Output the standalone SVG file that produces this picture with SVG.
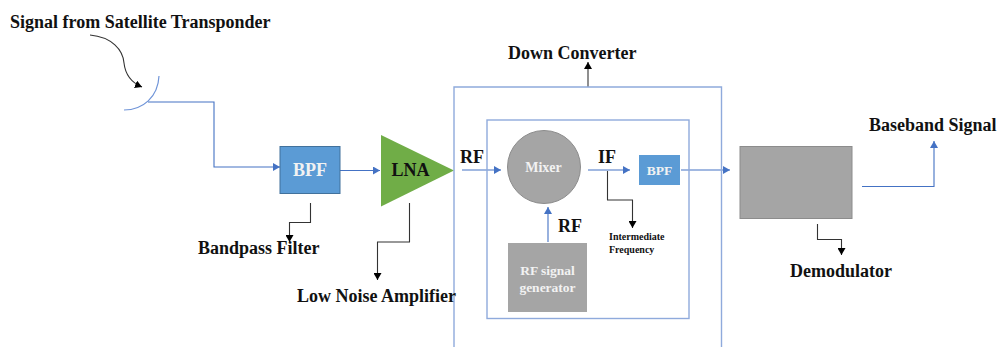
<svg xmlns="http://www.w3.org/2000/svg" width="998" height="347" viewBox="0 0 998 347">
<style>
text{font-family:"Liberation Serif","Times New Roman",serif;font-weight:bold;fill:#111}
.w{fill:#f2f2f2}
.c{text-anchor:middle}
.b{fill:none;stroke:#4472c4;stroke-width:1.1}
.k{fill:none;stroke:#333;stroke-width:1.1}
.f{fill:none;stroke:#8faadc;stroke-width:1.4}
.l{font-size:18px}
</style>
<defs>
<marker id="ab" markerUnits="userSpaceOnUse" markerWidth="8" markerHeight="8" refX="7" refY="4" orient="auto"><path d="M0 0L7 4L0 8Z" fill="#4472c4"/></marker>
<marker id="ak" markerUnits="userSpaceOnUse" markerWidth="8" markerHeight="8" refX="7" refY="4" orient="auto"><path d="M0 0L7 4L0 8Z" fill="#000"/></marker>
</defs>
<rect width="998" height="347" fill="#fff"/>
<g id="connectors">
<path class="b" d="M148 102H214V167H280" marker-end="url(#ab)"/>
<path class="b" d="M340 170.500H380" marker-end="url(#ab)"/>
<path class="b" d="M462 170H501" marker-end="url(#ab)"/>
<path class="b" d="M588 170H630" marker-end="url(#ab)"/>
<path class="b" d="M548 242V207" marker-end="url(#ab)"/>
<path class="b" d="M681 170H730" marker-end="url(#ab)"/>
<path class="b" d="M862 186.500H934V141" marker-end="url(#ab)"/>
<path class="k" d="M90 35C112 37 123 50 124 63C125 72 130 82 142 87" marker-end="url(#ak)"/>
<path class="k" d="M310.500 203V222.500H289.500V242" marker-end="url(#ak)"/>
<path class="k" d="M409.500 203V242H377.500V280" marker-end="url(#ak)"/>
<path class="k" d="M588 87V62" marker-end="url(#ak)"/>
<path class="k" d="M607.500 171V200H632.500V228" marker-end="url(#ak)"/>
<path class="k" d="M817.500 224V239.500H841.500V255" marker-end="url(#ak)"/>
</g>
<g id="dish"><path d="M159 76C158 97 143 110 124 110" fill="none" stroke="#6f94d8" stroke-width="1.2"/></g>
<g id="bpf1"><rect x="280" y="146.500" width="60" height="47" fill="#5b9bd5" stroke="#41719c"/><text class="w c" x="310" y="176" font-size="18px">BPF</text></g>
<g id="lna"><path d="M381 135V206.500L454 170.500Z" fill="#70ad47"/><text class="c" x="410.500" y="176" font-size="18px">LNA</text></g>
<g id="down-converter"><path class="f" d="M454 347V87H721.500V347"/></g>
<g id="inner"><rect class="f" x="487" y="120" width="202" height="198.500"/></g>
<g id="mixer"><circle cx="544" cy="167" r="36.500" fill="#a5a5a5" stroke="#8c8c8c"/><text class="w c" x="543.500" y="172" font-size="14px">Mixer</text></g>
<g id="rf-gen"><rect x="508" y="243" width="79" height="69" fill="#a5a5a5"/><text class="w c" x="547.500" y="275" font-size="13.500px">RF signal</text><text class="w c" x="547.500" y="291.500" font-size="13.500px">generator</text></g>
<g id="bpf2"><rect x="639" y="155" width="41" height="30" fill="#5b9bd5"/><text class="w c" x="659.500" y="175" font-size="13.500px">BPF</text></g>
<g id="demod"><rect x="740" y="146.500" width="112" height="72" fill="#a5a5a5" stroke="#8c8c8c"/></g>
<g id="labels">
<text class="l" x="10" y="28">Signal from Satellite Transponder</text>
<text class="l" x="198" y="254">Bandpass Filter</text>
<text class="l" x="297" y="302">Low Noise Amplifier</text>
<text class="l" x="508" y="59">Down Converter</text>
<text class="l" x="460" y="163">RF</text>
<text class="l" x="598" y="163">IF</text>
<text class="l" x="558" y="232">RF</text>
<text x="609" y="239.500" font-size="10px">Intermediate</text>
<text x="609" y="252.500" font-size="10px">Frequency</text>
<text class="l" x="869" y="131">Baseband Signal</text>
<text class="l" x="790" y="277">Demodulator</text>
</g>
</svg>
